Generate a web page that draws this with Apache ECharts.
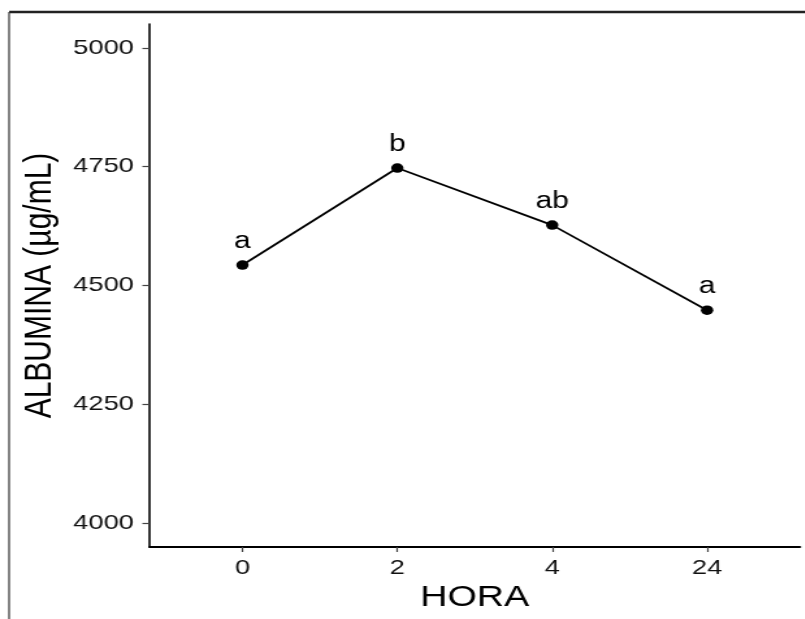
<!DOCTYPE html>
<html>
<head>
<meta charset="utf-8">
<script src="https://cdn.jsdelivr.net/npm/echarts@6/dist/echarts.min.js"></script>
<style>
html, body { margin: 0; padding: 0; overflow: hidden; background: #fff; width: 805px; height: 619px; }
#chart { width: 619px; height: 619px; transform: scaleX(1.3); transform-origin: 0 0; }
</style>
</head>
<body>
<div id="chart"></div>
<script>
const categories = ['0', '2', '4', '24'];
const albumina = [4543, 4747, 4627, 4448];
const letters = ['a', 'b', 'ab', 'a'];
const yTicks = [4000, 4250, 4500, 4750, 5000];

const points = albumina.map((v, i) => [i, v]);
const xIdx = categories.map((c, i) => i);

const chart = echarts.init(document.getElementById('chart'), null, { renderer: 'canvas' });
chart.setOption({
  animation: false,
  backgroundColor: '#fff',
  grid: { left: 115, right: 3.6, top: 24, bottom: 72 },
  graphic: [
    { type: 'line', shape: { x1: 7, y1: 12, x2: 700, y2: 12 }, style: { stroke: '#222', lineWidth: 2.5 } },
    { type: 'line', shape: { x1: 7, y1: 12, x2: 7, y2: 700 }, style: { stroke: '#333', lineWidth: 1.2 } }
  ],
  xAxis: {
    type: 'value',
    min: -0.6,
    max: 3.6,
    name: 'HORA',
    nameLocation: 'middle',
    nameGap: 33,
    nameTextStyle: { fontFamily: 'Liberation Sans', fontSize: 29, color: '#000' },
    axisLine: { show: true, onZero: false, lineStyle: { color: '#000', width: 2 } },
    axisTick: { show: true, customValues: xIdx, length: 5, lineStyle: { color: '#444', width: 1.2 } },
    axisLabel: {
      customValues: xIdx,
      formatter: v => categories[Math.round(v)],
      margin: 11,
      fontFamily: 'Liberation Sans', fontSize: 21, color: '#111'
    },
    splitLine: { show: false }
  },
  yAxis: {
    type: 'value',
    min: 3950,
    max: 5050,
    name: 'ALBUMINA (µg/mL)',
    nameLocation: 'middle',
    nameGap: 65,
    nameTextStyle: { fontFamily: 'Liberation Sans', fontSize: 30, color: '#000' },
    axisLine: { show: true, onZero: false, lineStyle: { color: '#000', width: 1.6 } },
    axisTick: { show: true, customValues: yTicks, length: 5.5, lineStyle: { color: '#444', width: 1.2 } },
    axisLabel: {
      customValues: yTicks,
      formatter: v => String(v),
      margin: 12,
      fontFamily: 'Liberation Sans', fontSize: 21, color: '#111'
    },
    splitLine: { show: false }
  },
  series: [{
    type: 'line',
    data: points,
    symbol: 'circle',
    symbolSize: 9.5,
    itemStyle: { color: '#000' },
    lineStyle: { color: '#000', width: 1.8 },
    label: {
      show: true,
      position: 'top',
      distance: 7,
      formatter: p => letters[p.dataIndex],
      fontFamily: 'Liberation Sans', fontSize: 23, color: '#000'
    }
  }]
});
</script>
</body>
</html>
